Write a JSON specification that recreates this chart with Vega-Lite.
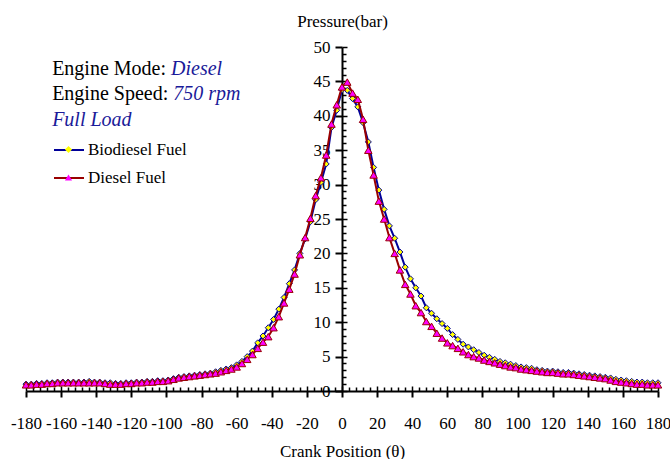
{
  "$schema": "https://vega.github.io/schema/vega-lite/v6.json",
  "width": 632,
  "height": 344,
  "autosize": "none",
  "padding": {"left": 26, "top": 47, "right": 12, "bottom": 68},
  "config": {"view": {"stroke": null}, "font": "Liberation Serif",
    "axis": {"labelFont": "Liberation Serif", "titleFont": "Liberation Serif"},
    "legend": {"labelFont": "Liberation Serif"}},
  "data": {"values": [
    {"a": -180, "diesel": 0.9, "bio": 1.0},
    {"a": -177, "diesel": 0.9, "bio": 1.0},
    {"a": -174, "diesel": 1.0, "bio": 1.1},
    {"a": -171, "diesel": 1.0, "bio": 1.1},
    {"a": -168, "diesel": 1.1, "bio": 1.2},
    {"a": -165, "diesel": 1.1, "bio": 1.2},
    {"a": -162, "diesel": 1.2, "bio": 1.3},
    {"a": -159, "diesel": 1.2, "bio": 1.3},
    {"a": -156, "diesel": 1.2, "bio": 1.3},
    {"a": -153, "diesel": 1.2, "bio": 1.3},
    {"a": -150, "diesel": 1.2, "bio": 1.3},
    {"a": -147, "diesel": 1.2, "bio": 1.3},
    {"a": -144, "diesel": 1.2, "bio": 1.4},
    {"a": -141, "diesel": 1.2, "bio": 1.3},
    {"a": -138, "diesel": 1.2, "bio": 1.3},
    {"a": -135, "diesel": 1.1, "bio": 1.2},
    {"a": -132, "diesel": 1.0, "bio": 1.2},
    {"a": -129, "diesel": 1.0, "bio": 1.1},
    {"a": -126, "diesel": 1.0, "bio": 1.1},
    {"a": -123, "diesel": 1.1, "bio": 1.2},
    {"a": -120, "diesel": 1.1, "bio": 1.2},
    {"a": -117, "diesel": 1.2, "bio": 1.3},
    {"a": -114, "diesel": 1.2, "bio": 1.3},
    {"a": -111, "diesel": 1.3, "bio": 1.4},
    {"a": -108, "diesel": 1.3, "bio": 1.4},
    {"a": -105, "diesel": 1.4, "bio": 1.5},
    {"a": -102, "diesel": 1.4, "bio": 1.5},
    {"a": -99, "diesel": 1.5, "bio": 1.6},
    {"a": -96, "diesel": 1.7, "bio": 1.8},
    {"a": -93, "diesel": 1.9, "bio": 2.0},
    {"a": -90, "diesel": 2.0, "bio": 2.1},
    {"a": -87, "diesel": 2.1, "bio": 2.2},
    {"a": -84, "diesel": 2.2, "bio": 2.3},
    {"a": -81, "diesel": 2.3, "bio": 2.4},
    {"a": -78, "diesel": 2.4, "bio": 2.5},
    {"a": -75, "diesel": 2.5, "bio": 2.6},
    {"a": -72, "diesel": 2.6, "bio": 2.8},
    {"a": -69, "diesel": 2.8, "bio": 3.0},
    {"a": -66, "diesel": 3.0, "bio": 3.2},
    {"a": -63, "diesel": 3.2, "bio": 3.4},
    {"a": -60, "diesel": 3.5, "bio": 3.8},
    {"a": -57, "diesel": 4.0, "bio": 4.3},
    {"a": -54, "diesel": 4.6, "bio": 5.0},
    {"a": -51, "diesel": 5.3, "bio": 5.8},
    {"a": -48, "diesel": 6.2, "bio": 7.0},
    {"a": -45, "diesel": 7.1, "bio": 8.0},
    {"a": -42, "diesel": 7.9, "bio": 9.2},
    {"a": -39, "diesel": 9.2, "bio": 10.4},
    {"a": -36, "diesel": 10.8, "bio": 11.9},
    {"a": -33, "diesel": 12.8, "bio": 13.6},
    {"a": -30, "diesel": 14.8, "bio": 15.6},
    {"a": -27, "diesel": 17.0, "bio": 17.6},
    {"a": -24, "diesel": 19.8, "bio": 20.0},
    {"a": -21, "diesel": 22.3, "bio": 22.1},
    {"a": -18, "diesel": 25.1, "bio": 24.6},
    {"a": -15, "diesel": 28.4, "bio": 27.8},
    {"a": -12, "diesel": 31.0, "bio": 30.3},
    {"a": -9, "diesel": 34.3, "bio": 33.0},
    {"a": -6, "diesel": 38.8, "bio": 38.3},
    {"a": -3, "diesel": 41.6, "bio": 40.8},
    {"a": 0, "diesel": 44.2, "bio": 43.8},
    {"a": 3, "diesel": 44.9, "bio": 43.7},
    {"a": 6, "diesel": 43.3, "bio": 42.5},
    {"a": 9, "diesel": 42.4, "bio": 41.3},
    {"a": 12, "diesel": 39.5, "bio": 39.0},
    {"a": 15, "diesel": 35.0, "bio": 36.2},
    {"a": 18, "diesel": 31.4, "bio": 32.5},
    {"a": 21, "diesel": 27.6, "bio": 29.2},
    {"a": 24, "diesel": 25.0, "bio": 26.4},
    {"a": 27, "diesel": 22.3, "bio": 24.0},
    {"a": 30, "diesel": 20.0, "bio": 22.2},
    {"a": 33, "diesel": 17.6, "bio": 20.2},
    {"a": 36, "diesel": 15.5, "bio": 18.0},
    {"a": 39, "diesel": 14.1, "bio": 16.3},
    {"a": 42, "diesel": 12.4, "bio": 15.0},
    {"a": 45, "diesel": 11.4, "bio": 13.8},
    {"a": 48, "diesel": 10.1, "bio": 12.1},
    {"a": 51, "diesel": 9.4, "bio": 11.3},
    {"a": 54, "diesel": 8.4, "bio": 10.5},
    {"a": 57, "diesel": 7.7, "bio": 9.8},
    {"a": 60, "diesel": 7.0, "bio": 9.1},
    {"a": 63, "diesel": 6.6, "bio": 8.2},
    {"a": 66, "diesel": 6.2, "bio": 7.5},
    {"a": 69, "diesel": 5.7, "bio": 6.8},
    {"a": 72, "diesel": 5.3, "bio": 6.4},
    {"a": 75, "diesel": 5.0, "bio": 6.0},
    {"a": 78, "diesel": 4.8, "bio": 5.6},
    {"a": 81, "diesel": 4.5, "bio": 5.2},
    {"a": 84, "diesel": 4.3, "bio": 4.9},
    {"a": 87, "diesel": 4.1, "bio": 4.6},
    {"a": 90, "diesel": 3.9, "bio": 4.3},
    {"a": 93, "diesel": 3.7, "bio": 4.1},
    {"a": 96, "diesel": 3.5, "bio": 3.9},
    {"a": 99, "diesel": 3.4, "bio": 3.7},
    {"a": 102, "diesel": 3.2, "bio": 3.5},
    {"a": 105, "diesel": 3.1, "bio": 3.4},
    {"a": 108, "diesel": 3.0, "bio": 3.3},
    {"a": 111, "diesel": 2.9, "bio": 3.1},
    {"a": 114, "diesel": 2.8, "bio": 3.0},
    {"a": 117, "diesel": 2.7, "bio": 2.9},
    {"a": 120, "diesel": 2.7, "bio": 2.9},
    {"a": 123, "diesel": 2.6, "bio": 2.8},
    {"a": 126, "diesel": 2.5, "bio": 2.7},
    {"a": 129, "diesel": 2.5, "bio": 2.7},
    {"a": 132, "diesel": 2.4, "bio": 2.6},
    {"a": 135, "diesel": 2.3, "bio": 2.5},
    {"a": 138, "diesel": 2.2, "bio": 2.4},
    {"a": 141, "diesel": 2.1, "bio": 2.3},
    {"a": 144, "diesel": 2.0, "bio": 2.2},
    {"a": 147, "diesel": 1.9, "bio": 2.1},
    {"a": 150, "diesel": 1.8, "bio": 2.0},
    {"a": 153, "diesel": 1.6, "bio": 1.9},
    {"a": 156, "diesel": 1.4, "bio": 1.7},
    {"a": 159, "diesel": 1.3, "bio": 1.6},
    {"a": 162, "diesel": 1.2, "bio": 1.5},
    {"a": 165, "diesel": 1.1, "bio": 1.4},
    {"a": 168, "diesel": 1.0, "bio": 1.3},
    {"a": 171, "diesel": 1.0, "bio": 1.3},
    {"a": 174, "diesel": 0.9, "bio": 1.2},
    {"a": 177, "diesel": 0.9, "bio": 1.2},
    {"a": 180, "diesel": 0.9, "bio": 1.2}
  ]},
  "resolve": {"axis": {"x": "independent", "y": "independent"}},
  "layer": [
    {
      "mark": {"type": "line", "strokeWidth": 2},
      "encoding": {
        "x": {"field": "a", "type": "quantitative",
          "scale": {"domain": [-180, 180], "nice": false, "zero": false},
          "axis": {"orient": "bottom", "values": [-180, -160, -140, -120, -100, -80, -60, -40, -20, 0, 20, 40, 60, 80, 100, 120, 140, 160, 180],
            "labelExpr": "toString(datum.value)",
            "grid": false, "tickSize": 6, "tickWidth": 2, "tickColor": "black", "domainColor": "black", "domainWidth": 2,
            "labelFont": "Liberation Serif", "labelFontSize": 17, "labelColor": "black", "labelBaseline": "alphabetic", "labelPadding": 31,
            "labelFlush": false, "labelOverlap": false,
            "title": "Crank Position (θ)", "titleFont": "Liberation Serif", "titleFontSize": 17, "titleFontWeight": "normal", "titleColor": "black",
            "titleX": 316, "titleY": 65, "titleBaseline": "alphabetic", "titleAnchor": "middle", "titleAlign": "center"}},
        "y": {"field": "bio", "type": "quantitative",
          "scale": {"domain": [0, 50], "nice": false, "zero": false},
          "axis": {"orient": "left", "offset": -316, "values": [0, 5, 10, 15, 20, 25, 30, 35, 40, 45, 50],
            "grid": false, "tickSize": 7, "tickWidth": 2, "tickColor": "black", "domainColor": "black", "domainWidth": 2,
            "labelFont": "Liberation Serif", "labelFontSize": 17, "labelColor": "black", "labelPadding": 5, "labelOverlap": false, "labelFlush": false,
            "title": "Pressure(bar)", "titleAngle": 0, "titleX": 0, "titleY": -21, "titleAlign": "center", "titleAnchor": null, "titleBaseline": "alphabetic",
            "titleFont": "Liberation Serif", "titleFontSize": 17, "titleFontWeight": "normal", "titleColor": "black"}},
        "stroke": {"datum": "Biodiesel Fuel", "type": "nominal",
          "scale": {"domain": ["Biodiesel Fuel", "Diesel Fuel"], "range": ["#000099", "#990000"]},
          "legend": {"orient": "none", "legendX": 27, "legendY": 87, "title": null, "padding": 0,
            "symbolType": "stroke", "symbolSize": 900, "symbolStrokeWidth": 2,
            "labelExpr": "''", "labelFont": "Liberation Serif", "labelFontSize": 17, "rowPadding": 4}}
      }
    },
    {
      "mark": {"type": "point", "filled": true, "stroke": "#000099", "strokeWidth": 1, "size": 36, "opacity": 1},
      "encoding": {
        "x": {"field": "a", "type": "quantitative",
          "axis": {"orient": "top", "offset": -344, "values": [-180, -176, -172, -168, -164, -160, -156, -152, -148, -144, -140, -136, -132, -128, -124, -120, -116, -112, -108, -104, -100, -96, -92, -88, -84, -80, -76, -72, -68, -64, -60, -56, -52, -48, -44, -40, -36, -32, -28, -24, -20, -16, -12, -8, -4, 0, 4, 8, 12, 16, 20, 24, 28, 32, 36, 40, 44, 48, 52, 56, 60, 64, 68, 72, 76, 80, 84, 88, 92, 96, 100, 104, 108, 112, 116, 120, 124, 128, 132, 136, 140, 144, 148, 152, 156, 160, 164, 168, 172, 176, 180],
            "grid": false, "domain": false, "labels": false, "title": null, "tickColor": "black", "tickWidth": 1.5,
            "tickSize": {"condition": {"test": "datum.value % 20 === 0", "value": 5}, "value": 4}}},
        "y": {"field": "bio", "type": "quantitative",
          "axis": {"orient": "right", "offset": -316, "values": [0, 1, 2, 3, 4, 5, 6, 7, 8, 9, 10, 11, 12, 13, 14, 15, 16, 17, 18, 19, 20, 21, 22, 23, 24, 25, 26, 27, 28, 29, 30, 31, 32, 33, 34, 35, 36, 37, 38, 39, 40, 41, 42, 43, 44, 45, 46, 47, 48, 49, 50],
            "grid": false, "domain": false, "labels": false, "title": null, "tickColor": "black", "tickWidth": 1.5,
            "tickSize": {"condition": {"test": "datum.value % 5 === 0", "value": 5}, "value": 4}}},
        "shape": {"datum": "Biodiesel Fuel", "type": "nominal",
          "scale": {"range": ["diamond", "triangle-up"]},
          "legend": {"orient": "none", "legendX": 34, "legendY": 94, "title": null, "padding": 0,
            "symbolSize": 50, "symbolStrokeWidth": 1,
            "symbolStrokeColor": {"expr": "datum.value === 'Biodiesel Fuel' ? '#000099' : '#990000'"},
            "labelOffset": 11, "labelColor": "black", "labelFont": "Liberation Serif", "labelFontSize": 17, "rowPadding": 10}},
        "fill": {"datum": "Biodiesel Fuel", "type": "nominal",
          "scale": {"range": ["#FFFF00", "#FF00FF"]}}
      }
    },
    {
      "mark": {"type": "line", "strokeWidth": 2},
      "encoding": {
        "x": {"field": "a", "type": "quantitative", "axis": null},
        "y": {"field": "diesel", "type": "quantitative", "axis": null},
        "stroke": {"datum": "Diesel Fuel", "type": "nominal"}
      }
    },
    {
      "mark": {"type": "point", "filled": true, "stroke": "#990000", "strokeWidth": 1, "size": 56, "opacity": 1},
      "encoding": {
        "x": {"field": "a", "type": "quantitative", "axis": null},
        "y": {"field": "diesel", "type": "quantitative", "axis": null},
        "shape": {"datum": "Diesel Fuel", "type": "nominal"},
        "fill": {"datum": "Diesel Fuel", "type": "nominal"}
      }
    },
    {
      "data": {"values": [{"t": "Engine Mode:"}]},
      "mark": {"type": "text", "align": "left", "baseline": "alphabetic", "fontSize": 20, "font": "Liberation Serif", "color": "black"},
      "encoding": {
        "x": {"datum": -165.1, "type": "quantitative", "axis": null},
        "y": {"datum": 45.93, "type": "quantitative", "axis": null},
        "text": {"field": "t"}
      }
    },
    {
      "data": {"values": [{"t": "Diesel"}]},
      "mark": {"type": "text", "align": "left", "baseline": "alphabetic", "fontSize": 20, "font": "Liberation Serif", "fontStyle": "italic", "color": "#1A1A99"},
      "encoding": {
        "x": {"datum": -97.4, "type": "quantitative", "axis": null},
        "y": {"datum": 45.93, "type": "quantitative", "axis": null},
        "text": {"field": "t"}
      }
    },
    {
      "data": {"values": [{"t": "Engine Speed:"}]},
      "mark": {"type": "text", "align": "left", "baseline": "alphabetic", "fontSize": 20, "font": "Liberation Serif", "color": "black"},
      "encoding": {
        "x": {"datum": -165.1, "type": "quantitative", "axis": null},
        "y": {"datum": 42.3, "type": "quantitative", "axis": null},
        "text": {"field": "t"}
      }
    },
    {
      "data": {"values": [{"t": "750 rpm"}]},
      "mark": {"type": "text", "align": "left", "baseline": "alphabetic", "fontSize": 20, "font": "Liberation Serif", "fontStyle": "italic", "color": "#1A1A99"},
      "encoding": {
        "x": {"datum": -96.1, "type": "quantitative", "axis": null},
        "y": {"datum": 42.3, "type": "quantitative", "axis": null},
        "text": {"field": "t"}
      }
    },
    {
      "data": {"values": [{"t": "Full Load"}]},
      "mark": {"type": "text", "align": "left", "baseline": "alphabetic", "fontSize": 20, "font": "Liberation Serif", "fontStyle": "italic", "color": "#1A1A99"},
      "encoding": {
        "x": {"datum": -165.1, "type": "quantitative", "axis": null},
        "y": {"datum": 38.5, "type": "quantitative", "axis": null},
        "text": {"field": "t"}
      }
    }
  ]
}
